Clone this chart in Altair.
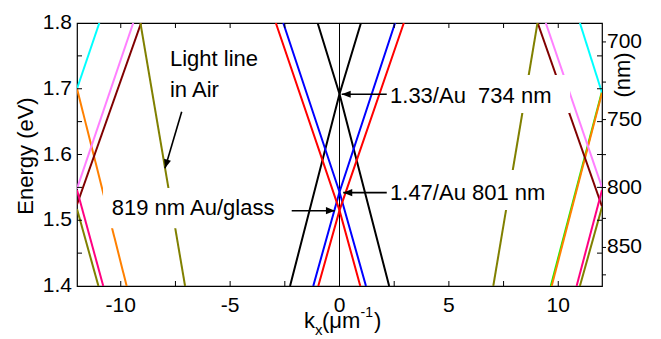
import altair as alt
import pandas as pd

FONT = "Liberation Sans"

# ---------------- data ----------------
# x: in-plane wavevector k_x (1/um), y: photon energy (eV)
black_rise_k = [-2.26, 0.0, 0.98]
black_rise_E = [1.40, 1.692, 1.80]
black_fall_k = [-1.00, 0.0, 2.27]
black_fall_E = [1.80, 1.692, 1.40]

blue_rise_k = [-1.20, 0.0, 2.54]
blue_rise_E = [1.40, 1.543, 1.80]
blue_fall_k = [-2.57, 0.0, 1.21]
blue_fall_E = [1.80, 1.543, 1.40]

red_rise_k = [-0.97, 0.0, 2.94]
red_rise_E = [1.40, 1.515, 1.80]
red_fall_k = [-2.91, 0.0, 0.95]
red_fall_E = [1.80, 1.515, 1.40]

air_left_k = [-9.10, -7.06]
air_left_E = [1.80, 1.40]
air_right_k = [7.03, 9.05]
air_right_E = [1.40, 1.80]

cyan_left_k = [-12.0, -10.98]
cyan_left_E = [1.700, 1.80]
cyan_right_k = [10.99, 12.0]
cyan_right_E = [1.80, 1.694]

orange_left_k = [-12.0, -9.73]
orange_left_E = [1.700, 1.40]
orange_right_k = [9.70, 12.0]
orange_right_E = [1.40, 1.694]

green_right_k = [9.66, 12.0]
green_right_E = [1.40, 1.696]

violet_left_k = [-12.0, -9.43]
violet_left_E = [1.548, 1.80]
violet_right_k = [9.43, 12.0]
violet_right_E = [1.80, 1.550]

darkred_left_k = [-12.0, -9.07]
darkred_left_E = [1.524, 1.80]
darkred_right_k = [9.06, 12.0]
darkred_right_E = [1.80, 1.521]

pink_left_k = [-12.0, -10.80]
pink_left_E = [1.546, 1.40]
pink_right_k = [10.84, 12.0]
pink_right_E = [1.40, 1.546]

olive_left_k = [-12.0, -11.02]
olive_left_E = [1.517, 1.40]
olive_right_k = [10.99, 12.0]
olive_right_E = [1.40, 1.520]

# axis ticks / labels
x_label_vals = [-10, -5, 0, 5, 10]
x_label_text = ["-10", "-5", "0", "5", "10"]
x_tick_vals = [-10, -7.5, -5, -2.5, 0, 2.5, 5, 7.5, 10]
y_label_vals = [1.4, 1.5, 1.6, 1.7, 1.8]
y_label_text = ["1.4", "1.5", "1.6", "1.7", "1.8"]
y_tick_vals = [1.45, 1.5, 1.55, 1.6, 1.65, 1.7, 1.75]
nm_label_vals = [700, 750, 800, 850]
nm_tick_vals = [700, 725, 750, 775, 800, 825, 850, 875]
zero_line_k = [0.0]

# annotations (text, position in data units)
ann_text = ["Light line", "in Air", "819 nm Au/glass", "1.33/Au\u00a0 734 nm", "1.47/Au 801 nm"]
ann_k = [-7.75, -7.75, -10.41, 2.31, 2.31]
ann_E = [1.735, 1.688, 1.508, 1.678, 1.531]

box_k1 = [-10.81, 2.17, 2.17]
box_k2 = [-2.26, 10.54, 9.99]
box_E1 = [1.549, 1.721, 1.5764]
box_E2 = [1.488, 1.663, 1.5156]

arrow_k0 = [-7.214, -2.185, 2.16, 2.16]
arrow_E0 = [1.665, 1.5145, 1.6916, 1.542]
arrow_k1 = [-7.977, -0.21, 0.10, 0.17]
arrow_E1 = [1.579, 1.5145, 1.6916, 1.542]
arrow_angle = [196, 90, 270, 270]

# ---------------- assemble ----------------
lines = [
    ("green_r", "green", green_right_k, green_right_E),
    ("cyan_l", "cyan", cyan_left_k, cyan_left_E),
    ("cyan_r", "cyan", cyan_right_k, cyan_right_E),
    ("orange_l", "orange", orange_left_k, orange_left_E),
    ("orange_r", "orange", orange_right_k, orange_right_E),
    ("violet_l", "violet", violet_left_k, violet_left_E),
    ("violet_r", "violet", violet_right_k, violet_right_E),
    ("darkred_l", "darkred", darkred_left_k, darkred_left_E),
    ("darkred_r", "darkred", darkred_right_k, darkred_right_E),
    ("pink_l", "pink", pink_left_k, pink_left_E),
    ("pink_r", "pink", pink_right_k, pink_right_E),
    ("olive_l", "olive", olive_left_k, olive_left_E),
    ("olive_r", "olive", olive_right_k, olive_right_E),
    ("air_l", "olive", air_left_k, air_left_E),
    ("air_r", "olive", air_right_k, air_right_E),
    ("black_a", "black", black_rise_k, black_rise_E),
    ("black_b", "black", black_fall_k, black_fall_E),
    ("blue_a", "blue", blue_rise_k, blue_rise_E),
    ("blue_b", "blue", blue_fall_k, blue_fall_E),
    ("red_a", "red", red_rise_k, red_rise_E),
    ("red_b", "red", red_fall_k, red_fall_E),
]
rows = []
for name, col, ks, Es in lines:
    for i, (k, e) in enumerate(zip(ks, Es)):
        rows.append({"line": name, "col": col, "k": k, "E": e, "i": i})
line_df = pd.DataFrame(rows)

color_names = ["green", "cyan", "orange", "violet", "darkred", "pink", "olive", "black", "blue", "red"]
color_hex = ["#00ff00", "#00ffff", "#ff8000", "#ff80ff", "#800000", "#ff0080", "#808000", "#000000", "#0000ff", "#ff0000"]

XS = alt.Scale(domain=[-12, 12], nice=False, zero=False)
YS = alt.Scale(domain=[1.4, 1.8], nice=False, zero=False)
W, H = 525, 263

zero_layer = alt.Chart(pd.DataFrame({"k": zero_line_k})).mark_rule(color="black", strokeWidth=1).encode(
    x=alt.X("k:Q", scale=XS, axis=None), y=alt.value(0), y2=alt.value(H))

line_layer = alt.Chart(line_df).mark_line(strokeWidth=2, clip=True).encode(
    x=alt.X("k:Q", scale=XS, axis=None),
    y=alt.Y("E:Q", scale=YS, axis=None),
    color=alt.Color("col:N", scale=alt.Scale(domain=color_names, range=color_hex), legend=None),
    detail="line:N",
    order="i:Q",
)

box_df = pd.DataFrame({"k1": box_k1, "k2": box_k2, "E1": box_E1, "E2": box_E2})
box_layer = alt.Chart(box_df).mark_rect(color="white").encode(
    x=alt.X("k1:Q", scale=XS, axis=None), x2="k2:Q",
    y=alt.Y("E1:Q", scale=YS, axis=None), y2="E2:Q")

ann_df = pd.DataFrame({"label": ann_text, "k": ann_k, "E": ann_E})
ann_layer = alt.Chart(ann_df).mark_text(align="left", baseline="alphabetic", font=FONT, fontSize=22,
                                        color="black").encode(
    x=alt.X("k:Q", scale=XS, axis=None), y=alt.Y("E:Q", scale=YS, axis=None), text="label:N")

arr_df = pd.DataFrame({"k0": arrow_k0, "E0": arrow_E0, "k1": arrow_k1, "E1": arrow_E1, "ang": arrow_angle})
arr_line = alt.Chart(arr_df).mark_rule(color="black", strokeWidth=1.6).encode(
    x=alt.X("k0:Q", scale=XS, axis=None), x2="k1:Q",
    y=alt.Y("E0:Q", scale=YS, axis=None), y2="E1:Q")
arr_head = alt.Chart(arr_df).mark_point(shape="M0,0L0.8,2L-0.8,2Z", filled=True, size=81, color="black",
                                        opacity=1, strokeWidth=0).encode(
    x=alt.X("k1:Q", scale=XS, axis=None), y=alt.Y("E1:Q", scale=YS, axis=None),
    angle=alt.Angle("ang:Q", scale=None))

# inward ticks (mirrored on all four sides)
xt_df = pd.DataFrame({"k": x_tick_vals})
yt_df = pd.DataFrame({"E": y_tick_vals})
tick_bottom = alt.Chart(xt_df).mark_rule(color="black", strokeWidth=1).encode(
    x=alt.X("k:Q", scale=XS, axis=None), y=alt.value(H), y2=alt.value(H - 5))
tick_top = alt.Chart(xt_df).mark_rule(color="black", strokeWidth=1).encode(
    x=alt.X("k:Q", scale=XS, axis=None), y=alt.value(0), y2=alt.value(5))
tick_left = alt.Chart(yt_df).mark_rule(color="black", strokeWidth=1).encode(
    y=alt.Y("E:Q", scale=YS, axis=None), x=alt.value(0), x2=alt.value(5))
tick_right = alt.Chart(yt_df).mark_rule(color="black", strokeWidth=1).encode(
    y=alt.Y("E:Q", scale=YS, axis=None), x=alt.value(W), x2=alt.value(W - 5))

# tick labels
xl_df = pd.DataFrame({"k": x_label_vals, "t": x_label_text})
x_labels = alt.Chart(xl_df).mark_text(align="center", baseline="top", font=FONT, fontSize=21,
                                      color="black").encode(
    x=alt.X("k:Q", scale=XS, axis=None), y=alt.value(H + 9), text="t:N")
yl_df = pd.DataFrame({"E": y_label_vals, "t": y_label_text})
y_labels = alt.Chart(yl_df).mark_text(align="right", baseline="middle", font=FONT, fontSize=21,
                                      color="black").encode(
    y=alt.Y("E:Q", scale=YS, axis=None), x=alt.value(-5), text="t:N")

# wavelength axis on the right (E = 1239.84 / nm)
nm_tick_layer = alt.Chart(pd.DataFrame({"nm": nm_tick_vals})).transform_calculate(
    E="1239.84 / datum.nm").mark_rule(color="black", strokeWidth=1).encode(
    y=alt.Y("E:Q", scale=YS, axis=None), x=alt.value(W), x2=alt.value(W + 4))
nm_label_layer = alt.Chart(pd.DataFrame({"nm": nm_label_vals})).transform_calculate(
    E="1239.84 / datum.nm").mark_text(align="left", baseline="middle", font=FONT, fontSize=21,
                                      color="black").encode(
    y=alt.Y("E:Q", scale=YS, axis=None), x=alt.value(W + 5), text=alt.Text("nm:Q", format="d"))

dummy = pd.DataFrame({"a": [0]})


def txt(s, x, y, size=22, angle=0, align="left", baseline="alphabetic"):
    return alt.Chart(dummy).mark_text(text=s, font=FONT, fontSize=size, angle=angle, align=align,
                                      baseline=baseline, color="black").encode(
        x=alt.value(x), y=alt.value(y))


titles = [
    txt("Energy (eV)", -44, 133, 22, angle=270, align="center"),
    txt("(nm)", 553, 52, 22, angle=270, align="center"),
    txt("k", 227, 305, 22),
    txt("x", 238, 312, 15),
    txt("(\u03bcm", 245, 305, 22),
    txt("-1", 283.5, 294, 14),
    txt(")", 297, 305, 22),
]

chart = alt.layer(
    zero_layer, line_layer, box_layer, ann_layer, arr_line, arr_head,
    tick_bottom, tick_top, tick_left, tick_right, x_labels, y_labels,
    nm_tick_layer, nm_label_layer,
    *titles,
).properties(
    width=W, height=H,
    autosize=alt.AutoSizeParams(type="none"),
    padding={"left": 77, "top": 23, "right": 59, "bottom": 53},
    background="white",
).configure_view(stroke="black", strokeWidth=1.2)

chart.save("out.html", embed_options={"renderer": "svg", "actions": False})
